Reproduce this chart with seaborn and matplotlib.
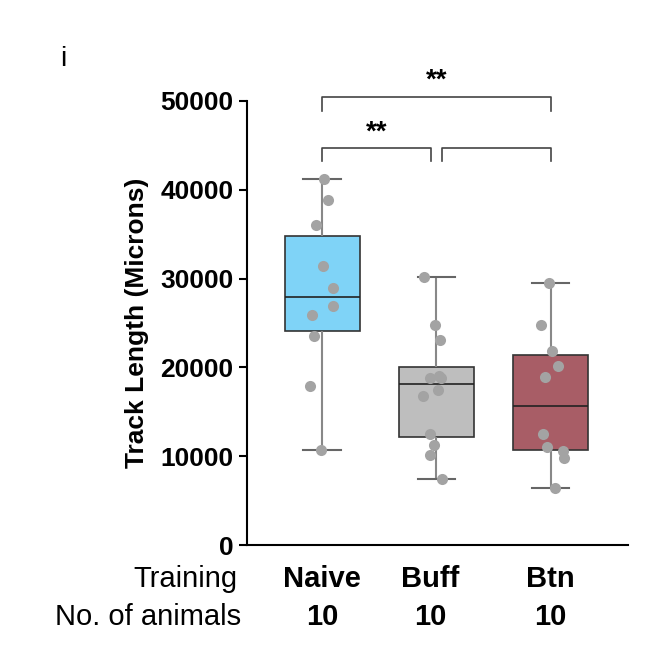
import numpy as np
import pandas as pd
import matplotlib
matplotlib.use("Agg")
import matplotlib.pyplot as plt
import seaborn as sns

plt.rcParams["font.family"] = "Liberation Sans"

groups = ["Naive", "Buff", "Btn"]
counts = ["10", "10", "10"]
naive = [41200, 38900, 36000, 31400, 28900, 26900, 25900, 23500, 17900, 10700]
buff = [30200, 24800, 23100, 18800, 18800, 19000, 16800, 17500, 12500, 11300, 10100, 7400]
btn = [29500, 24800, 21800, 20200, 18900, 12500, 11000, 10600, 9800, 6400]
colors = ["#7FD3F7", "#BEBEBE", "#A85D66"]

df = pd.DataFrame({"g": ["Naive"]*len(naive) + ["Buff"]*len(buff) + ["Btn"]*len(btn),
                   "v": naive + buff + btn})

fig = plt.figure(figsize=(6.69, 6.6), dpi=100)
ax = fig.add_axes([0.369, 0.174, 0.57, 0.673])
sns.boxplot(data=df, x="g", y="v", hue="g", order=groups, palette=colors, whis=(0, 100),
            width=0.66, linewidth=1.2, saturation=1, ax=ax, legend=False,
            boxprops=dict(edgecolor="#333333"), medianprops=dict(color="#222222"),
            whiskerprops=dict(color="#888888", linewidth=1.5), capprops=dict(color="#666666", linewidth=1.5))
np.random.seed(3)
sns.stripplot(data=df, x="g", y="v", order=groups, color="#A3A3A3", size=8, jitter=0.12, ax=ax, zorder=5)
ax.set_xlim(-0.66, 2.68)
ax.set_ylim(0, 50000)
ax.set_yticks([0, 10000, 20000, 30000, 40000, 50000])
ax.set_yticklabels(["0", "10000", "20000", "30000", "40000", "50000"], fontsize=19, fontweight="bold")
ax.set_xticks([])
ax.set_xlabel("")
ax.set_ylabel("Track Length (Microns)", fontsize=19, fontweight="bold", labelpad=8)
for s in ["top", "right"]:
    ax.spines[s].set_visible(False)
ax.spines["left"].set_linewidth(1.5)
ax.spines["bottom"].set_linewidth(1.5)
ax.tick_params(axis="y", width=1.5, length=6)

def bracket(x1, x2, y, drop, text=None):
    ax.plot([x1, x1, x2, x2], [y - drop, y, y, y - drop], color="#444444", lw=1.2, clip_on=False)
    if text:
        ax.text((x1 + x2) / 2, y + 300, text, ha="center", va="bottom", fontsize=20, fontweight="bold")

bracket(0, 2, 50500, 1600, "**")
bracket(0, 0.95, 44700, 1500, "**")
bracket(1.05, 2, 44700, 1500)

fig.text(0.355, 0.123, "Training", ha="right", va="center", fontsize=21)
fig.text(0.36, 0.065, "No. of animals", ha="right", va="center", fontsize=21)
xs = [322, 430, 550]
for x, g, c in zip(xs, groups, counts):
    fig.text(x / 669, 0.123, g, ha="center", va="center", fontsize=21, fontweight="bold")
    fig.text(x / 669, 0.065, c, ha="center", va="center", fontsize=21, fontweight="bold")
fig.text(0.09, 0.9, "i", fontsize=20)
fig.savefig("out.png", dpi=100)
